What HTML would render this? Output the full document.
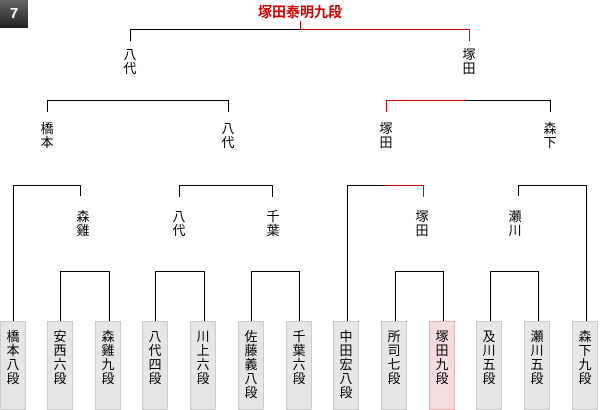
<!DOCTYPE html>
<html><head><meta charset="utf-8"><style>
body{margin:0;width:600px;height:410px;background:#fff;position:relative;overflow:hidden;font-family:"Liberation Sans","Noto Sans CJK JP",sans-serif}
.l{position:absolute;background:#000}
.r{background:#d40000}
.t{position:absolute;font-size:13px;line-height:14px;width:20px;text-align:center;color:#000}
.b{position:absolute;top:321px;width:26px;height:87px;background:#e6e6e6;border:1px solid #ccc;font-size:13px;line-height:14px;text-align:center;padding-top:8px;box-sizing:border-box;height:89px}
.h{background:#f6dcdc;border-color:#e3b5b5}
</style></head><body>
<div style="position:absolute;left:0;top:0;width:28px;height:28px;background:linear-gradient(#666,#222);color:#fff;font-weight:bold;font-size:15px;line-height:28px;text-align:center">7</div>
<div style="position:absolute;left:200px;top:4px;width:200px;text-align:center;color:#d40000;font-weight:bold;font-size:14px;line-height:16px">塚田泰明九段</div>
<!-- top bracket -->
<div class="l r" style="left:300px;top:21px;width:1px;height:8px"></div>
<div class="l" style="left:130px;top:29px;width:170px;height:1px"></div>
<div class="l r" style="left:300px;top:29px;width:170px;height:1px"></div>
<div class="l" style="left:130px;top:29px;width:1px;height:12px"></div>
<div class="l r" style="left:469px;top:29px;width:1px;height:12px"></div>
<div class="t" style="left:120px;top:48px">八<br>代</div>
<div class="t" style="left:459px;top:48px">塚<br>田</div>
<!-- level3 -->
<div class="l" style="left:47px;top:100px;width:182px;height:1px"></div>
<div class="l" style="left:47px;top:100px;width:1px;height:12px"></div>
<div class="l" style="left:228px;top:100px;width:1px;height:12px"></div>
<div class="l r" style="left:386px;top:100px;width:82px;height:1px"></div>
<div class="l" style="left:468px;top:100px;width:83px;height:1px"></div>
<div class="l r" style="left:386px;top:100px;width:1px;height:12px"></div>
<div class="l" style="left:550px;top:100px;width:1px;height:12px"></div>
<div class="t" style="left:37px;top:122px">橋<br>本</div>
<div class="t" style="left:218px;top:122px">八<br>代</div>
<div class="t" style="left:376px;top:122px">塚<br>田</div>
<div class="t" style="left:540px;top:122px">森<br>下</div>
<!-- level2 -->
<div class="l" style="left:13px;top:185px;width:68px;height:1px"></div>
<div class="l" style="left:13px;top:185px;width:1px;height:136px"></div>
<div class="l" style="left:80px;top:185px;width:1px;height:11px"></div>
<div class="l" style="left:179px;top:185px;width:94px;height:1px"></div>
<div class="l" style="left:179px;top:185px;width:1px;height:12px"></div>
<div class="l" style="left:272px;top:185px;width:1px;height:12px"></div>
<div class="l" style="left:347px;top:185px;width:38px;height:1px"></div>
<div class="l r" style="left:385px;top:185px;width:39px;height:1px"></div>
<div class="l" style="left:347px;top:185px;width:1px;height:136px"></div>
<div class="l r" style="left:423px;top:185px;width:1px;height:12px"></div>
<div class="l" style="left:518px;top:185px;width:69px;height:1px"></div>
<div class="l" style="left:518px;top:185px;width:1px;height:11px"></div>
<div class="l" style="left:586px;top:185px;width:1px;height:136px"></div>
<div class="t" style="left:73px;top:210px">森<br>雞</div>
<div class="t" style="left:169px;top:210px">八<br>代</div>
<div class="t" style="left:263px;top:210px">千<br>葉</div>
<div class="t" style="left:412px;top:210px">塚<br>田</div>
<div class="t" style="left:505px;top:210px">瀬<br>川</div>
<!-- level1 -->
<div class="l" style="left:60px;top:271px;width:50px;height:1px"></div>
<div class="l" style="left:60px;top:271px;width:1px;height:50px"></div>
<div class="l" style="left:109px;top:271px;width:1px;height:50px"></div>
<div class="l" style="left:155px;top:271px;width:50px;height:1px"></div>
<div class="l" style="left:155px;top:271px;width:1px;height:50px"></div>
<div class="l" style="left:204px;top:271px;width:1px;height:50px"></div>
<div class="l" style="left:251px;top:271px;width:49px;height:1px"></div>
<div class="l" style="left:251px;top:271px;width:1px;height:50px"></div>
<div class="l" style="left:299px;top:271px;width:1px;height:50px"></div>
<div class="l" style="left:395px;top:271px;width:49px;height:1px"></div>
<div class="l" style="left:395px;top:271px;width:1px;height:50px"></div>
<div class="l" style="left:443px;top:271px;width:1px;height:50px"></div>
<div class="l" style="left:490px;top:271px;width:49px;height:1px"></div>
<div class="l" style="left:490px;top:271px;width:1px;height:50px"></div>
<div class="l" style="left:538px;top:271px;width:1px;height:50px"></div>
<!-- boxes -->
<div class="b" style="left:0px">橋<br>本<br>八<br>段</div>
<div class="b" style="left:47px">安<br>西<br>六<br>段</div>
<div class="b" style="left:95px">森<br>雞<br>九<br>段</div>
<div class="b" style="left:142px">八<br>代<br>四<br>段</div>
<div class="b" style="left:190px">川<br>上<br>六<br>段</div>
<div class="b" style="left:238px">佐<br>藤<br>義<br>八<br>段</div>
<div class="b" style="left:286px">千<br>葉<br>六<br>段</div>
<div class="b" style="left:333px">中<br>田<br>宏<br>八<br>段</div>
<div class="b" style="left:381px">所<br>司<br>七<br>段</div>
<div class="b h" style="left:429px">塚<br>田<br>九<br>段</div>
<div class="b" style="left:476px">及<br>川<br>五<br>段</div>
<div class="b" style="left:524px">瀬<br>川<br>五<br>段</div>
<div class="b" style="left:572px">森<br>下<br>九<br>段</div>
</body></html>
